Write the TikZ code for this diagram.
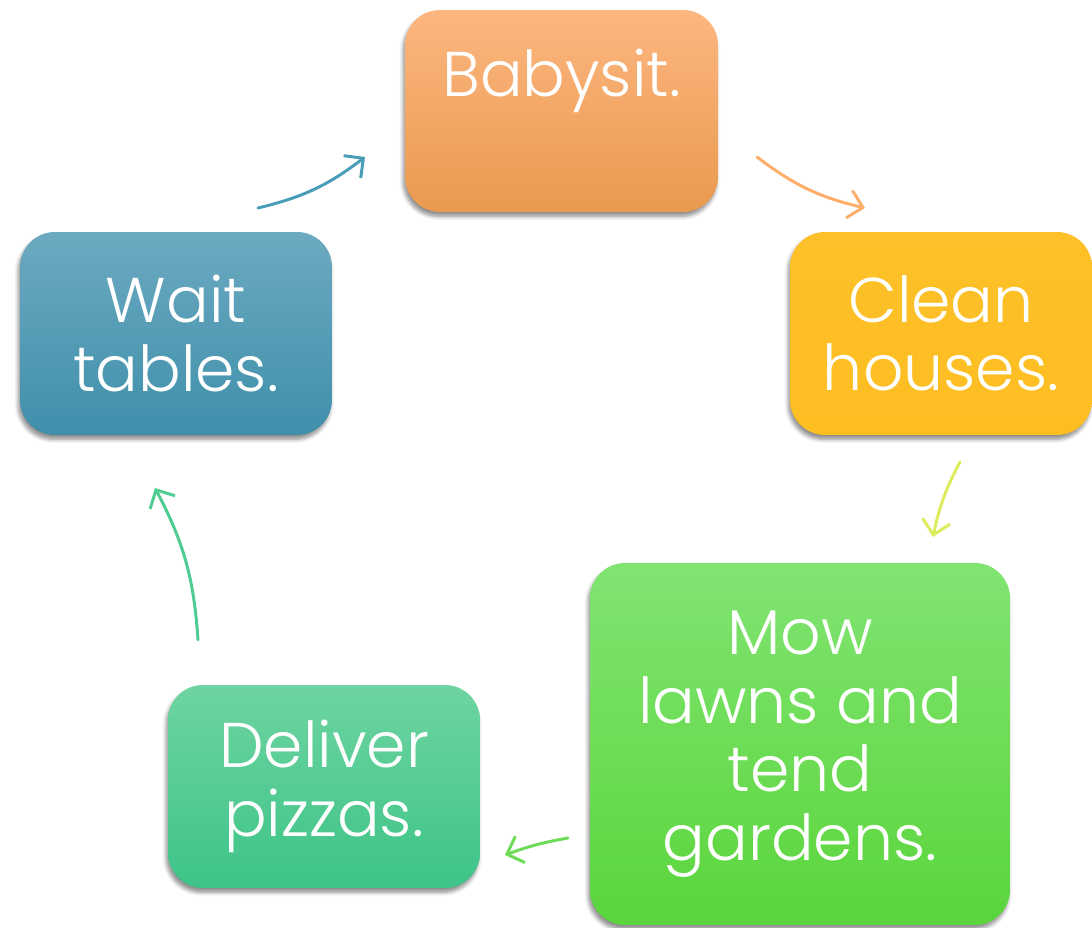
\documentclass[tikz,border=0pt]{standalone}
\usepackage{fontspec}
\setmainfont{Poppins}[UprightFont=* Light]
\usepackage{tikz}
\usetikzlibrary{arrows.meta,shadows.blur}
\definecolor{babyTop}{HTML}{FDB67F}
\definecolor{babyBot}{HTML}{E99A50}
\definecolor{cleanTop}{HTML}{FDC028}
\definecolor{cleanBot}{HTML}{FDBE22}
\definecolor{mowTop}{HTML}{81E472}
\definecolor{mowBot}{HTML}{5AD53B}
\definecolor{pizzaTop}{HTML}{6ED4A1}
\definecolor{pizzaBot}{HTML}{3DC487}
\definecolor{waitTop}{HTML}{6CAAC1}
\definecolor{waitBot}{HTML}{3F8FAB}
\definecolor{babyArrow}{HTML}{FDAE6B}
\definecolor{cleanArrow}{HTML}{DDEC5C}
\definecolor{mowArrow}{HTML}{6EDC58}
\definecolor{pizzaArrow}{HTML}{4ECC92}
\definecolor{waitArrow}{HTML}{4A9DB8}
\tikzset{
  taskbox/.style={rounded corners=0.7cm, text=white, align=center, inner sep=0pt,
    font=\fontsize{36}{39}\selectfont,
    blur shadow={shadow xshift=-1pt, shadow yshift=-2.5pt, shadow blur steps=6, shadow opacity=45}},
  cyclearrow/.style={line width=1.7pt, line cap=round, -{Straight Barb[length=8pt,width=16pt,line width=1.7pt]}}
}

\begin{document}
\begin{tikzpicture}[x=0.02cm, y=-0.02cm]
\useasboundingbox (0,0) rectangle (1092,928);
\node[taskbox, minimum width=6.26cm, minimum height=4.04cm, text height=1cm, text depth=1.56cm,
      top color=babyTop, bottom color=babyBot]   (baby)    at (561.5,111)   {Babysit.};
\node[taskbox, minimum width=6.04cm, minimum height=4.06cm,
      top color=cleanTop, bottom color=cleanBot] (clean)   at (941,333.5)   {Clean\\houses.};
\node[taskbox, minimum width=8.4cm, minimum height=7.24cm,
      top color=mowTop, bottom color=mowBot]     (mow)     at (800,744)     {Mow\\lawns and\\tend\\gardens.};
\node[taskbox, minimum width=6.24cm, minimum height=4.06cm,
      top color=pizzaTop, bottom color=pizzaBot] (deliver) at (324,786.5)   {Deliver\\pizzas.};
\node[taskbox, minimum width=6.24cm, minimum height=4.06cm,
      top color=waitTop, bottom color=waitBot]   (wait)    at (176,333.5)   {Wait\\tables.};

\coordinate (waitOut)    at (258,208);
\coordinate (babyIn)     at (365,157);
\coordinate (babyOut)    at (757,157);
\coordinate (cleanIn)    at (865,208);
\coordinate (cleanOut)   at (960,462);
\coordinate (mowIn)      at (933,537);
\coordinate (mowOut)     at (568,838);
\coordinate (deliverIn)  at (505,855);
\coordinate (deliverOut) at (198,640);
\coordinate (waitIn)     at (155,488);

\draw[cyclearrow, waitArrow]  (waitOut)    to[bend right=12] (babyIn);
\draw[cyclearrow, babyArrow]  (babyOut)    to[bend right=12] (cleanIn);
\draw[cyclearrow, cleanArrow] (cleanOut)   to[bend right=8]  (mowIn);
\draw[cyclearrow, mowArrow]   (mowOut)     to[bend right=5]  (deliverIn);
\draw[cyclearrow, pizzaArrow] (deliverOut) to[bend right=12] (waitIn);
\end{tikzpicture}
\end{document}
